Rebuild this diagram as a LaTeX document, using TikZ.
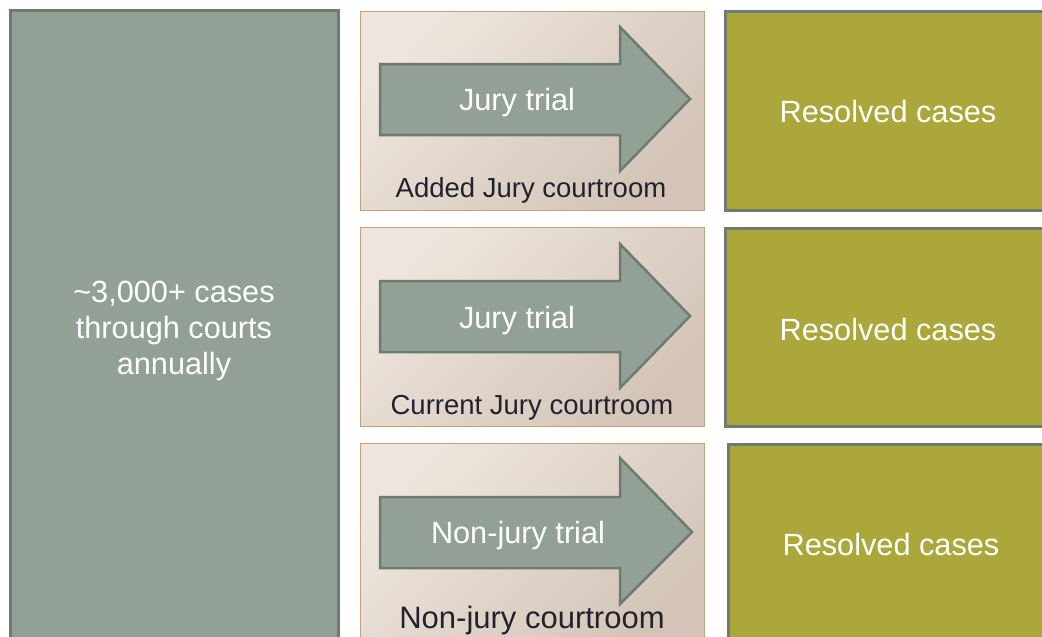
\documentclass[tikz,border=0pt]{standalone}
\usepackage{fontspec}
\setmainfont{Liberation Sans}
\definecolor{sage}{HTML}{92A096}
\definecolor{sageline}{HTML}{6E7B72}
\definecolor{olive}{HTML}{ABA73B}
\definecolor{tanline}{HTML}{C4A27A}
\definecolor{paperA}{HTML}{EEE6DE}
\definecolor{paperB}{HTML}{D3C4B7}
\definecolor{ink}{HTML}{22222E}
\tikzset{
  srcbox/.style={draw=sageline, fill=sage, line width=3pt, rectangle, inner sep=0pt},
  roombox/.style={draw=tanline, line width=0.9pt, rectangle, inner sep=0pt,
    left color=paperA, right color=paperB, shading angle=45},
  resbox/.style={draw=sageline, fill=olive, line width=3pt, rectangle, inner sep=0pt},
  trialarrow/.style={draw=sageline, fill=sage, line width=2.5pt, line join=miter},
  bigtext/.style={text=white, font=\fontsize{30.7}{36}\selectfont, inner sep=0pt, anchor=base},
  roomlabel/.style={text=ink, font=\fontsize{27.5}{32}\selectfont, inner sep=0pt, anchor=base},
}
\begin{document}
\begin{tikzpicture}[x=1pt, y=-1pt]
\useasboundingbox (0,0) rectangle (1042,637);
\clip (0,0) rectangle (1042,637);
\fill[white] (0,0) rectangle (1042,637);

% source box
\node[srcbox, minimum width=328pt, minimum height=650pt] (src) at (174,335) {};
\node[text=white, font=\fontsize{30.7}{36}\selectfont, align=center, inner sep=0pt] (srctext) at (174,331) {\textasciitilde 3,000+ cases\\through courts\\annually};

% courtroom boxes
\node[roombox, minimum width=344pt, minimum height=199pt] (room1) at (532,110.5) {};
\node[roombox, minimum width=344pt, minimum height=199pt] (room2) at (532,326.5) {};
\node[roombox, minimum width=344pt, minimum height=207pt] (room3) at (532,546.5) {};

% arrows
\draw[trialarrow] (380,64) -- (620,64) -- (620,27) -- (690,99) -- (620,171) -- (620,135) -- (380,135) -- cycle;
\draw[trialarrow] (380,281) -- (620,281) -- (620,244) -- (690,316) -- (620,388) -- (620,352) -- (380,352) -- cycle;
\draw[trialarrow] (380,497) -- (620,497) -- (620,458) -- (692,532) -- (620,604) -- (620,568) -- (380,568) -- cycle;

\node[bigtext] (t1) at (517,110) {Jury trial};
\node[bigtext] (t2) at (517,328) {Jury trial};
\node[bigtext] (t3) at (518,543) {Non-jury trial};

\node[roomlabel] (l1) at (531,197) {Added Jury courtroom};
\node[roomlabel] (l2) at (532,414) {Current Jury courtroom};
\node[roomlabel, font=\fontsize{31}{36}\selectfont] (l3) at (532,628) {Non-jury courtroom};

% resolved boxes
\node[resbox, minimum width=335pt, minimum height=199pt] (res1) at (892.5,110.5) {};
\node[resbox, minimum width=335pt, minimum height=198pt] (res2) at (892.5,327) {};
\node[resbox, minimum width=332pt, minimum height=216pt] (res3) at (894,552) {};
\node[bigtext] (r1) at (888,122) {Resolved cases};
\node[bigtext] (r2) at (888,340) {Resolved cases};
\node[bigtext] (r3) at (891,555) {Resolved cases};
\end{tikzpicture}
\end{document}
